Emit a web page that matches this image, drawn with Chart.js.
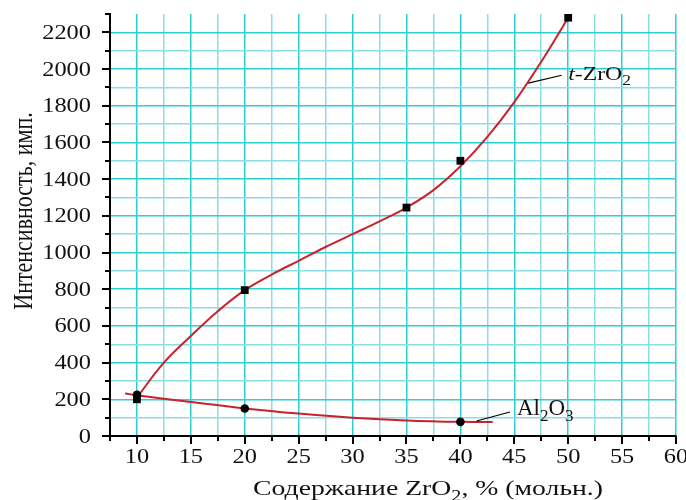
<!DOCTYPE html>
<html>
<head>
<meta charset="utf-8">
<script src="https://cdn.jsdelivr.net/npm/chart.js@4.4.0/dist/chart.umd.min.js"></script>
<style>
  html, body { margin: 0; padding: 0; background: #fff; }
  #wrap { width: 686px; height: 500px; position: relative; }
</style>
</head>
<body>
<div id="wrap"><canvas id="chart"></canvas></div>
<script>
// measured points
const zrX = [10, 20, 35, 40, 50];
const zrY = [200, 795, 1245, 1500, 2280];
const alX = [10, 20, 40];
const alY = [225, 150, 77];

// fitted curves
const zrCurveX = [10, 12.5, 15, 17.5, 20, 22.5, 25, 27.5, 30, 32.5, 35, 37.5, 40, 42.5, 45, 47.5, 50];
const zrCurveY = [210, 400, 545, 680, 795, 880, 955, 1030, 1100, 1170, 1245, 1340, 1470, 1630, 1820, 2040, 2280];
const alCurveX = [8.9, 10, 15, 20, 25, 30, 35, 40, 43];
const alCurveY = [232, 222, 185, 150, 122, 100, 85, 77, 76];

// labelled ticks
const xLabels = [10, 15, 20, 25, 30, 35, 40, 45, 50, 55, 60];
const yLabels = [0, 200, 400, 600, 800, 1000, 1200, 1400, 1600, 1800, 2000, 2200];

const FONT = "'Liberation Serif', 'Times New Roman', serif";
const RED = 'rgb(200, 35, 45)';
const GRID_MAJOR = 'rgb(45, 205, 212)';
const GRID_MINOR = 'rgb(140, 222, 230)';
const STRETCH = 1.22; // the source picture is widened a bit

const pts = (xs, ys) => xs.map((x, i) => ({ x: x, y: ys[i] }));

// draws text with subscript parts, align: 'left' | 'center' | 'right'
function drawRich(ctx, parts, x, y, size, align, sx) {
    const subSize = Math.round(size * 0.72);
    sx = sx || 1;
    let w = 0;
    parts.forEach(p => {
        ctx.font = (p.italic ? 'italic ' : '') + (p.sub ? subSize : size) + 'px ' + FONT;
        w += ctx.measureText(p.t).width;
    });
    ctx.save();
    ctx.translate(x, y);
    ctx.scale(sx, 1);
    let cx = align === 'center' ? -w / 2 : align === 'right' ? -w : 0;
    parts.forEach(p => {
        ctx.font = (p.italic ? 'italic ' : '') + (p.sub ? subSize : size) + 'px ' + FONT;
        ctx.fillText(p.t, cx, p.sub ? size * 0.25 : 0);
        cx += ctx.measureText(p.t).width;
    });
    ctx.restore();
}

const axisDecor = {
    id: 'axisDecor',
    afterDraw(chart) {
        const ctx = chart.ctx;
        const xs = chart.scales.x, ys = chart.scales.y;
        const area = chart.chartArea;
        ctx.save();
        ctx.strokeStyle = '#000';
        ctx.lineWidth = 2;
        // tick marks outside the axes
        ctx.beginPath();
        ys.ticks.forEach(t => {
            const py = Math.round(ys.getPixelForValue(t.value));
            const len = yLabels.includes(t.value) ? 8 : 5;
            ctx.moveTo(area.left - len, py);
            ctx.lineTo(area.left, py);
        });
        xs.ticks.forEach(t => {
            const px = Math.round(xs.getPixelForValue(t.value));
            const len = xLabels.includes(t.value) ? 8 : 5;
            ctx.moveTo(px, area.bottom);
            ctx.lineTo(px, area.bottom + len);
        });
        ctx.stroke();

        ctx.fillStyle = '#111';
        ctx.textBaseline = 'alphabetic';
        // tick labels
        yLabels.forEach(v => {
            drawRich(ctx, [{ t: String(v) }], area.left - 19, ys.getPixelForValue(v) + 6.5, 20, 'right', STRETCH);
        });
        xLabels.forEach(v => {
            drawRich(ctx, [{ t: String(v) }], xs.getPixelForValue(v), area.bottom + 27, 20, 'center', STRETCH);
        });

        // axis titles
        drawRich(ctx, [{ t: 'Содержание ZrO' }, { t: '2', sub: true }, { t: ', % (мольн.)' }],
            428, 495, 22, 'center', 1.26);
        ctx.save();
        ctx.translate(32, 211);
        ctx.rotate(-Math.PI / 2);
        ctx.scale(1, 1.2);
        drawRich(ctx, [{ t: 'Интенсивность, имп.' }], 0, 0, 22, 'center');
        ctx.restore();

        // series labels with leader lines
        ctx.lineWidth = 1.2;
        ctx.beginPath();
        ctx.moveTo(xs.getPixelForValue(46.3), ys.getPixelForValue(1923));
        ctx.lineTo(xs.getPixelForValue(49.4), ys.getPixelForValue(1966));
        ctx.moveTo(xs.getPixelForValue(41.5), ys.getPixelForValue(82));
        ctx.lineTo(xs.getPixelForValue(44.6), ys.getPixelForValue(131));
        ctx.stroke();
        drawRich(ctx, [{ t: 't', italic: true }, { t: '-ZrO' }, { t: '2', sub: true }],
            xs.getPixelForValue(50), ys.getPixelForValue(1939), 19, 'left', 1.25);
        drawRich(ctx, [{ t: 'Al' }, { t: '2', sub: true }, { t: 'O' }, { t: '3', sub: true }],
            xs.getPixelForValue(45.25), ys.getPixelForValue(114), 23, 'left');
        ctx.restore();
    }
};

new Chart(document.getElementById('chart'), {
    type: 'scatter',
    data: {
        datasets: [
            {
                label: 't-ZrO2 curve',
                data: pts(zrCurveX, zrCurveY),
                showLine: true,
                borderColor: RED,
                borderWidth: 2,
                pointRadius: 0,
                tension: 0.4,
                order: 2
            },
            {
                label: 'Al2O3 curve',
                data: pts(alCurveX, alCurveY),
                showLine: true,
                borderColor: RED,
                borderWidth: 2,
                pointRadius: 0,
                tension: 0.4,
                order: 2
            },
            {
                label: 't-ZrO2',
                data: pts(zrX, zrY),
                pointStyle: 'rect',
                pointRadius: 5.5,
                backgroundColor: '#000',
                borderColor: '#000',
                borderWidth: 0,
                order: 1
            },
            {
                label: 'Al2O3',
                data: pts(alX, alY),
                pointStyle: 'circle',
                pointRadius: 4.3,
                backgroundColor: '#000',
                borderColor: '#000',
                borderWidth: 0,
                order: 1
            }
        ]
    },
    options: {
        responsive: true,
        maintainAspectRatio: false,
        animation: false,
        layout: { padding: { top: 14, right: 10, left: 0, bottom: 0 } },
        plugins: {
            legend: { display: false },
            tooltip: { enabled: false }
        },
        scales: {
            x: {
                type: 'linear',
                min: 7.5,
                max: 60,
                afterFit: s => { s.height = 64; s.paddingLeft = 0; s.paddingRight = 0; },
                border: { color: '#000', width: 2 },
                grid: {
                    color: c => c.tick && xLabels.includes(c.tick.value) ? GRID_MAJOR : GRID_MINOR,
                    lineWidth: 1.5,
                    drawTicks: false
                },
                ticks: {
                    display: false,
                    stepSize: 2.5,
                    autoSkip: false,
                    maxRotation: 0
                }
            },
            y: {
                type: 'linear',
                min: 0,
                max: 2300,
                afterFit: s => { s.width = 110; s.paddingTop = 0; s.paddingBottom = 0; },
                border: { color: '#000', width: 2 },
                grid: {
                    color: c => {
                        if (!c.tick || c.tick.value === 2300) return 'rgba(0,0,0,0)';
                        return yLabels.includes(c.tick.value) ? GRID_MAJOR : GRID_MINOR;
                    },
                    lineWidth: 1.5,
                    drawTicks: false
                },
                ticks: {
                    display: false,
                    stepSize: 100,
                    autoSkip: false
                }
            }
        }
    },
    plugins: [axisDecor]
});
</script>
</body>
</html>
